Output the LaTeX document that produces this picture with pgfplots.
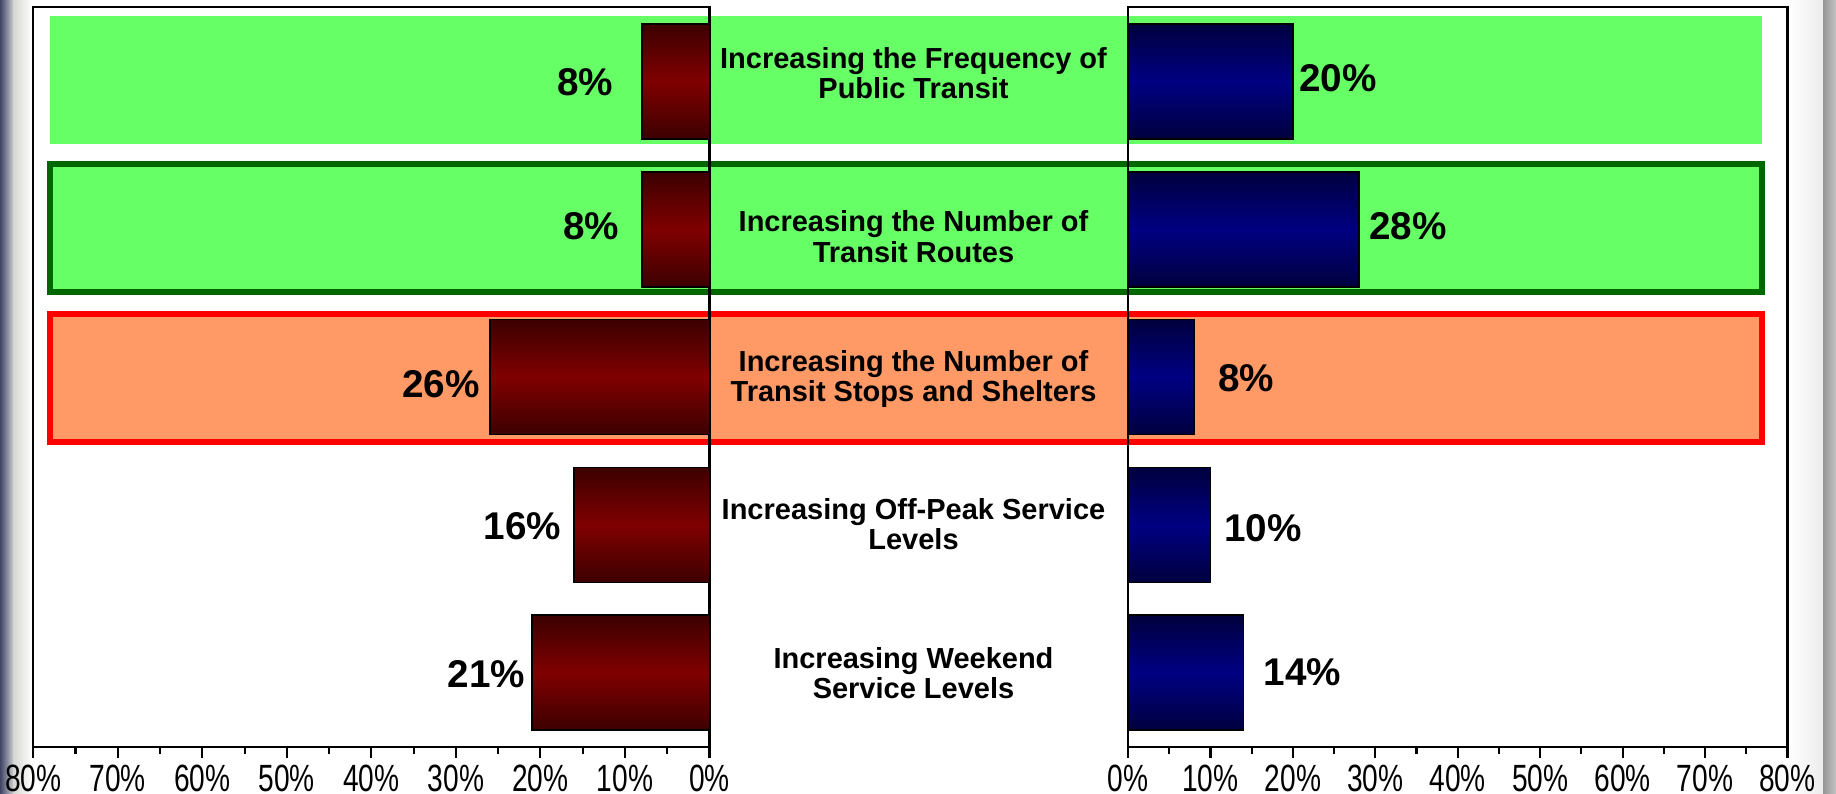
\documentclass[border=0pt]{standalone}
\usepackage{fontspec}
\setmainfont{Liberation Sans}
\usepackage{graphicx}
\usepackage{pgfplots}
\pgfplotsset{compat=1.18}
\definecolor{hlgreen}{HTML}{66FF66}
\definecolor{hlorange}{HTML}{FF9966}
\definecolor{dkgreen}{HTML}{006600}
\definecolor{barred}{HTML}{800000}
\definecolor{barreddk}{HTML}{3C0000}
\definecolor{barblue}{HTML}{000082}
\definecolor{barbluedk}{HTML}{00003E}

\pgfplotsset{
  halfaxis/.style={
    anchor=south west, scale only axis,
    height=73.94mm,
    xmin=0, xmax=80, ymin=0.5, ymax=5.5, y dir=reverse,
    ytick=\empty,
    xtick={0,10,...,80}, minor x tick num=1,
    xtick pos=bottom, tick align=outside,
    major tick length=1.1mm, minor tick length=0.7mm,
    xticklabel={\scalebox{1}[1.35]{\pgfmathprintnumber{\tick}\%}},
    /pgf/number format/assume math mode=true,
    xticklabel style={font=\fontsize{8}{9.6}\selectfont, inner sep=0pt, anchor=north, yshift=-0.7mm},
    axis line style={line width=0.6pt},
    every tick/.style={line width=0.6pt, black},
    clip=false,
  },
  redbar/.style={xbar, bar shift=0pt, bar width=11.5mm, draw=black, line width=0.5pt,
    top color=barreddk, bottom color=barreddk, middle color=barred},
  bluebar/.style={xbar, bar shift=0pt, bar width=11.5mm, draw=black, line width=0.5pt,
    top color=barbluedk, bottom color=barbluedk, middle color=barblue},
}

\begin{document}
\begin{tikzpicture}[x=1mm,y=1mm]
\useasboundingbox (0,0) rectangle (183.6,79.3);
% slide edges
\shade[left color={rgb,255:red,62;green,68;blue,100}, right color={rgb,255:red,200;green,200;blue,206}] (0,0) rectangle (1.3,79.3);
\shade[left color={rgb,255:red,214;green,214;blue,210}, right color=white] (1.3,0) rectangle (3.2,79.3);
\shade[left color=white, right color={rgb,255:red,236;green,236;blue,236}] (178.9,0) rectangle (182.3,79.3);
\shade[left color={rgb,255:red,150;green,150;blue,150}, right color={rgb,255:red,195;green,195;blue,195}] (182.3,0) rectangle (183.6,79.3);

% highlight bands
\fill[hlgreen] (4.95,64.9) rectangle (176.2,77.7);
\filldraw[fill=hlgreen, draw=dkgreen, line width=0.6mm] (5.0,50.1) rectangle (176.2,62.9);
\filldraw[fill=hlorange, draw=red, line width=0.6mm] (5.0,35.1) rectangle (176.2,47.9);

% left axis
\begin{axis}[halfaxis, at={(3.33mm,4.63mm)}, width=67.62mm, x dir=reverse]
\addplot[redbar] coordinates {(8,1)};
\addplot[redbar] coordinates {(8,2)};
\addplot[redbar] coordinates {(26,3)};
\addplot[redbar] coordinates {(16,4)};
\addplot[redbar] coordinates {(21,5)};
\end{axis}

% right axis
\begin{axis}[halfaxis, at={(112.8mm,4.63mm)}, width=65.95mm]
\addplot[bluebar] coordinates {(20,1)};
\addplot[bluebar] coordinates {(28,2)};
\addplot[bluebar] coordinates {(8,3)};
\addplot[bluebar] coordinates {(10,4)};
\addplot[bluebar] coordinates {(14,5)};
\end{axis}

% value labels
\begin{scope}[every node/.style={inner sep=0pt, font=\fontsize{11}{13}\selectfont\bfseries}]
\node at (58.5,71.13) {8\%};
\node at (59.1,56.7) {8\%};
\node at (44.08,40.9) {26\%};
\node at (52.23,26.65) {16\%};
\node at (48.65,11.85) {21\%};
\node at (133.8,71.47) {20\%};
\node at (140.8,56.7) {28\%};
\node at (124.6,41.52) {8\%};
\node at (126.3,26.45) {10\%};
\node at (130.25,12.1) {14\%};
\end{scope}

% category labels
\begin{scope}[every node/.style={inner sep=0pt, align=center, font=\fontsize{8.25}{8.6}\selectfont\bfseries}]
\node at (91.35,72.0) {Increasing the Frequency of\\Public Transit};
\node at (91.35,55.63) {Increasing the Number of\\Transit Routes};
\node at (91.35,41.42) {Increasing the Number of\\Transit Stops and Shelters};
\node at (91.35,26.85) {Increasing Off-Peak Service\\Levels};
\node at (91.35,11.97) {Increasing Weekend\\Service Levels};
\end{scope}
\end{tikzpicture}
\end{document}
